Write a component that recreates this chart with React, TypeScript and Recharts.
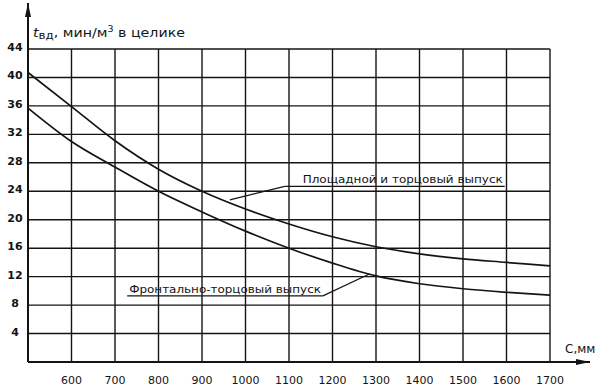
import React from 'react';
import { LineChart, Line, XAxis, YAxis, CartesianGrid, ReferenceLine } from 'recharts';

// Ширина целика C, мм
const widths = [500, 600, 700, 800, 900, 1000, 1100, 1200, 1300, 1400, 1500, 1600, 1700];
// Площадной и торцовый выпуск
const areaRelease = [40.7, 35.9, 31.1, 27.1, 24.0, 21.5, 19.4, 17.6, 16.2, 15.2, 14.5, 14.0, 13.5];
// Фронтально-торцовый выпуск
const frontRelease = [35.7, 31.0, 27.4, 24.0, 21.1, 18.4, 16.0, 13.9, 12.1, 11.0, 10.3, 9.8, 9.4];

const xTicks = [600, 700, 800, 900, 1000, 1100, 1200, 1300, 1400, 1500, 1600, 1700];
const yTicks = [0, 4, 8, 12, 16, 20, 24, 28, 32, 36, 40, 44];

const areaLabel = 'Площадной и торцовый выпуск';
const frontLabel = 'Фронтально-торцовый выпуск';

const data = widths.map((c, i) => ({ c, area: areaRelease[i], front: frontRelease[i] }));

const INK = '#141414';
const FONT = '"DejaVu Sans", sans-serif';

// line with an arrowhead at its far end
const arrow = (x1: number, y1: number, x2: number, y2: number) => {
  const a = Math.atan2(y2 - y1, x2 - x1);
  const len = 14;
  const w = 3;
  const bx = x2 - len * Math.cos(a);
  const by = y2 - len * Math.sin(a);
  const nx = -Math.sin(a) * w;
  const ny = Math.cos(a) * w;
  return (
    <g>
      <line x1={x1} y1={y1} x2={x2} y2={y2} stroke={INK} strokeWidth={2} />
      <polygon points={`${x2},${y2} ${bx + nx},${by + ny} ${bx - nx},${by - ny}`} fill={INK} />
    </g>
  );
};

const Leader = (p: any) => (
  <line x1={p.x1} y1={p.y1} x2={p.x2} y2={p.y2} stroke={INK} strokeWidth={1.2} />
);

const makeUnderlined = (text: string, pad: number) => (p: any) => (
  <g>
    <line x1={p.x1} y1={p.y1} x2={p.x2} y2={p.y2} stroke={INK} strokeWidth={1.2} />
    <text
      x={p.x1 + pad}
      y={p.y1 - 3}
      fontFamily={FONT}
      fontSize={10.5}
      fill={INK}
      textLength={p.x2 - p.x1 - pad - 2}
      lengthAdjust="spacingAndGlyphs"
    >
      {text}
    </text>
  </g>
);

const XTick = (p: any) => (
  <text x={p.x} y={384} textAnchor="middle" fontFamily={FONT} fontSize={11} fill={INK}>
    {p.payload.value}
  </text>
);

const YTick = (p: any) =>
  p.payload.value === 0 ? null : (
    <text x={15} y={p.y + 2} textAnchor="middle" fontFamily={FONT} fontSize={11} fontWeight="bold" fill={INK}>
      {p.payload.value}
    </text>
  );

// y axis: arrow above the plot + title
const YTitle = (p: any) => {
  const vb = p.viewBox || { x: 0, y: 49, width: 28, height: 313 };
  const ax = vb.x + vb.width;
  return (
    <g>
      {arrow(ax, vb.y + vb.height, ax, vb.y - 46)}
      <text x={ax + 5} y={vb.y - 12} fontFamily={FONT} fontSize={12} fill={INK} textLength={152} lengthAdjust="spacingAndGlyphs">
        <tspan fontStyle="italic">t</tspan>
        <tspan fontSize={10} dy={2}>вд</tspan>
        <tspan dy={-2}>, мин/м</tspan>
        <tspan fontSize={8} dy={-5}>3</tspan>
        <tspan dy={5}> в целике</tspan>
      </text>
    </g>
  );
};

// x axis: arrow past the last grid line + title
const XTitle = (p: any) => {
  const vb = p.viewBox || { x: 28, y: 362, width: 522, height: 30 };
  const end = vb.x + vb.width + 40;
  return (
    <g>
      {arrow(vb.x, vb.y, end, vb.y)}
      <text x={end - 25} y={vb.y - 9} fontFamily={FONT} fontSize={12} fill={INK}>
        C,мм
      </text>
    </g>
  );
};

export default function App() {
  return (
    <div style={{ position: 'absolute', left: 0, top: 0, width: 605, height: 392, background: '#fff' }}>
      <LineChart width={605} height={392} data={data} margin={{ top: 49, right: 55, bottom: 0, left: 0 }}>
        <CartesianGrid stroke={INK} strokeWidth={1.4} strokeOpacity={1} />
        <XAxis
          dataKey="c"
          type="number"
          domain={[500, 1700]}
          ticks={xTicks}
          height={30}
          axisLine={false}
          tickLine={false}
          tick={XTick}
          interval={0}
          label={XTitle}
        />
        <YAxis
          type="number"
          domain={[0, 44]}
          ticks={yTicks}
          width={28}
          axisLine={false}
          tickLine={false}
          tick={YTick}
          interval={0}
          label={YTitle}
        />
        <ReferenceLine segment={[{ x: 964, y: 22.8 }, { x: 1090, y: 24.7 }]} ifOverflow="visible" shape={Leader} />
        <ReferenceLine
          segment={[{ x: 1090, y: 24.7 }, { x: 1596, y: 24.7 }]}
          ifOverflow="visible"
          shape={makeUnderlined(areaLabel, 18)}
        />
        <ReferenceLine segment={[{ x: 1178, y: 9.3 }, { x: 1286, y: 12.4 }]} ifOverflow="visible" shape={Leader} />
        <ReferenceLine
          segment={[{ x: 728, y: 9.3 }, { x: 1178, y: 9.3 }]}
          ifOverflow="visible"
          shape={makeUnderlined(frontLabel, 2)}
        />
        <Line type="monotone" dataKey="area" stroke={INK} strokeWidth={1.7} dot={false} isAnimationActive={false} />
        <Line type="monotone" dataKey="front" stroke={INK} strokeWidth={1.7} dot={false} isAnimationActive={false} />
      </LineChart>
    </div>
  );
}
